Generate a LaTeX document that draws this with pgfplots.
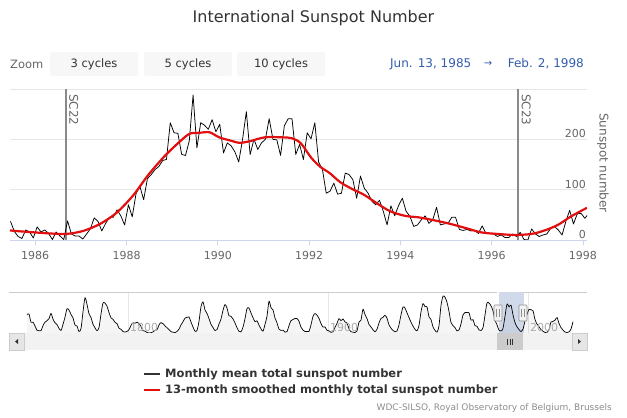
\documentclass[border=0pt]{standalone}
\usepackage{pgfplots}
\usepackage{pgfplotstable}
\pgfplotsset{compat=1.18}
\usepackage{fontspec}
\setmainfont{DejaVu Sans}
\definecolor{txt}{HTML}{333333}
\definecolor{lab}{HTML}{666666}
\definecolor{gridc}{HTML}{E6E6E6}
\definecolor{axl}{HTML}{CCD6EB}
\definecolor{srred}{RGB}{225,15,15}
\definecolor{datec}{HTML}{335CAD}
\definecolor{btn}{HTML}{F7F7F7}
\definecolor{plotline}{HTML}{8A8A8A}
\definecolor{maskc}{RGB}{209,218,235}
\definecolor{navlab}{HTML}{AAAAAA}
\definecolor{outl}{HTML}{CCCCCC}
\definecolor{track}{HTML}{F2F2F2}
\definecolor{sbbtn}{HTML}{E6E6E6}

% monthly mean total sunspot number
\pgfplotstableread{
t v
1985.458 37
1985.542 17
1985.625 7
1985.708 3
1985.792 20
1985.875 16
1985.958 4
1986.042 26
1986.125 16
1986.208 20
1986.292 13
1986.375 1
1986.458 16
1986.542 8
1986.625 1
1986.708 38
1986.792 12
1986.875 8
1986.958 8
1987.042 2
1987.125 12
1987.208 22
1987.292 44
1987.375 37
1987.458 18
1987.542 33
1987.625 45
1987.708 45
1987.792 60
1987.875 48
1987.958 30
1988.042 70
1988.125 46
1988.208 92
1988.292 107
1988.375 80
1988.458 122
1988.542 130
1988.625 140
1988.708 146
1988.792 158
1988.875 160
1988.958 233
1989.042 213
1989.125 212
1989.208 170
1989.292 168
1989.375 197
1989.458 288
1989.542 183
1989.625 233
1989.708 228
1989.792 220
1989.875 239
1989.958 215
1990.042 230
1990.125 173
1990.208 193
1990.292 187
1990.375 175
1990.458 155
1990.542 200
1990.625 255
1990.708 170
1990.792 200
1990.875 180
1990.958 193
1991.042 200
1991.125 241
1991.208 200
1991.292 199
1991.375 168
1991.458 227
1991.542 241
1991.625 241
1991.708 170
1991.792 190
1991.875 160
1991.958 213
1992.042 201
1992.125 233
1992.208 155
1992.292 140
1992.375 93
1992.458 97
1992.542 113
1992.625 91
1992.708 93
1992.792 133
1992.875 130
1992.958 120
1993.042 83
1993.125 127
1993.208 103
1993.292 93
1993.375 77
1993.458 70
1993.542 79
1993.625 57
1993.708 30
1993.792 68
1993.875 48
1993.958 68
1994.042 83
1994.125 57
1994.208 47
1994.292 27
1994.375 30
1994.458 40
1994.542 48
1994.625 33
1994.708 40
1994.792 65
1994.875 30
1994.958 32
1995.042 33
1995.125 45
1995.208 45
1995.292 21
1995.375 19
1995.458 21
1995.542 18
1995.625 19
1995.708 13
1995.792 28
1995.875 13
1995.958 13
1996.042 12
1996.125 7
1996.208 10
1996.292 5
1996.375 5
1996.458 12
1996.542 7
1996.625 15
1996.708 1
1996.792 0
1996.875 22
1996.958 12
1997.042 7
1997.125 10
1997.208 12
1997.292 23
1997.375 27
1997.458 20
1997.542 10
1997.625 37
1997.708 59
1997.792 32
1997.875 52
1997.958 53
1998.042 43
1998.125 53
}\monthly

% 13-month smoothed monthly total sunspot number
\pgfplotstableread{
t v
1985.447 19
1985.70 17
1986.00 15
1986.33 13
1986.68 12
1987.05 18
1987.42 32
1987.78 54
1988.14 88
1988.44 125
1988.65 148
1988.87 170
1989.16 195
1989.38 211
1989.60 213
1989.82 214
1990.03 204
1990.30 197
1990.47 193
1990.69 196
1991.03 204
1991.41 204
1991.63 202
1991.82 192
1992.05 163
1992.25 145
1992.45 133
1992.68 115
1992.95 101
1993.20 90
1993.50 72
1993.78 57
1994.10 48
1994.40 45
1994.69 40
1995.05 33
1995.42 24
1995.78 15
1996.14 12
1996.50 10
1996.87 12
1997.16 19
1997.45 30
1997.74 47
1998.088 64
}\smoothed

% navigator: yearly values 1749-2022
\pgfplotstableread{
t v
1749.5 134.0
1750.5 139.0
1751.5 79.5
1752.5 79.7
1753.5 51.2
1754.5 20.3
1755.5 16.0
1756.5 17.0
1757.5 54.0
1758.5 79.3
1759.5 90.0
1760.5 104.8
1761.5 143.2
1762.5 102.0
1763.5 75.2
1764.5 60.7
1765.5 34.8
1766.5 19.0
1767.5 63.0
1768.5 116.3
1769.5 176.8
1770.5 168.0
1771.5 136.0
1772.5 110.8
1773.5 58.0
1774.5 51.0
1775.5 11.7
1776.5 33.0
1777.5 154.2
1778.5 257.3
1779.5 209.8
1780.5 141.3
1781.5 113.5
1782.5 64.2
1783.5 38.0
1784.5 17.0
1785.5 40.2
1786.5 138.2
1787.5 220.0
1788.5 218.2
1789.5 196.8
1790.5 149.8
1791.5 111.0
1792.5 100.0
1793.5 78.2
1794.5 68.3
1795.5 35.5
1796.5 26.7
1797.5 10.7
1798.5 6.8
1799.5 11.3
1800.5 24.2
1801.5 56.7
1802.5 75.0
1803.5 71.8
1804.5 79.2
1805.5 70.3
1806.5 46.8
1807.5 16.8
1808.5 13.5
1809.5 4.2
1810.5 0.0
1811.5 2.3
1812.5 8.3
1813.5 20.3
1814.5 23.2
1815.5 59.0
1816.5 76.3
1817.5 68.3
1818.5 52.9
1819.5 38.5
1820.5 24.2
1821.5 9.2
1822.5 6.3
1823.5 2.2
1824.5 11.4
1825.5 28.2
1826.5 59.9
1827.5 83.0
1828.5 108.5
1829.5 115.2
1830.5 117.4
1831.5 80.8
1832.5 44.3
1833.5 13.4
1834.5 19.5
1835.5 85.8
1836.5 192.7
1837.5 227.3
1838.5 168.7
1839.5 143.0
1840.5 105.5
1841.5 63.3
1842.5 40.3
1843.5 18.1
1844.5 25.1
1845.5 65.8
1846.5 102.7
1847.5 166.3
1848.5 208.3
1849.5 182.5
1850.5 126.3
1851.5 122.0
1852.5 102.7
1853.5 74.1
1854.5 39.0
1855.5 12.7
1856.5 8.2
1857.5 43.4
1858.5 104.4
1859.5 178.3
1860.5 182.2
1861.5 146.6
1862.5 112.1
1863.5 83.5
1864.5 89.2
1865.5 57.8
1866.5 30.7
1867.5 13.9
1868.5 62.8
1869.5 123.6
1870.5 232.0
1871.5 185.3
1872.5 169.2
1873.5 110.1
1874.5 74.5
1875.5 28.3
1876.5 18.9
1877.5 20.7
1878.5 5.7
1879.5 10.0
1880.5 53.7
1881.5 90.5
1882.5 99.0
1883.5 106.1
1884.5 105.8
1885.5 86.3
1886.5 42.4
1887.5 21.8
1888.5 11.2
1889.5 10.4
1890.5 11.8
1891.5 59.5
1892.5 121.7
1893.5 142.0
1894.5 130.0
1895.5 106.6
1896.5 69.4
1897.5 43.8
1898.5 44.4
1899.5 20.2
1900.5 15.7
1901.5 4.6
1902.5 8.5
1903.5 40.8
1904.5 70.1
1905.5 105.5
1906.5 90.1
1907.5 102.8
1908.5 80.9
1909.5 73.2
1910.5 30.9
1911.5 9.5
1912.5 6.0
1913.5 2.4
1914.5 16.1
1915.5 79.0
1916.5 95.0
1917.5 173.6
1918.5 134.6
1919.5 105.7
1920.5 62.7
1921.5 43.5
1922.5 23.7
1923.5 9.7
1924.5 27.9
1925.5 74.0
1926.5 106.5
1927.5 114.7
1928.5 129.7
1929.5 108.2
1930.5 59.4
1931.5 35.1
1932.5 18.6
1933.5 9.2
1934.5 14.6
1935.5 60.2
1936.5 132.8
1937.5 190.6
1938.5 182.6
1939.5 148.0
1940.5 113.0
1941.5 79.2
1942.5 50.8
1943.5 27.1
1944.5 16.1
1945.5 55.3
1946.5 154.3
1947.5 214.7
1948.5 193.0
1949.5 190.7
1950.5 118.9
1951.5 98.3
1952.5 45.0
1953.5 20.1
1954.5 6.6
1955.5 54.2
1956.5 200.7
1957.5 269.3
1958.5 261.7
1959.5 225.1
1960.5 159.0
1961.5 76.4
1962.5 53.4
1963.5 39.9
1964.5 15.0
1965.5 22.0
1966.5 66.8
1967.5 132.9
1968.5 150.2
1969.5 149.4
1970.5 148.0
1971.5 94.4
1972.5 97.6
1973.5 54.1
1974.5 49.2
1975.5 22.5
1976.5 18.4
1977.5 39.3
1978.5 131.0
1979.5 220.1
1980.5 218.9
1981.5 198.9
1982.5 162.4
1983.5 91.0
1984.5 60.5
1985.5 20.6
1986.5 14.8
1987.5 33.9
1988.5 123.0
1989.5 211.1
1990.5 191.8
1991.5 203.3
1992.5 133.0
1993.5 76.1
1994.5 44.9
1995.5 25.1
1996.5 11.6
1997.5 28.9
1998.5 88.3
1999.5 136.3
2000.5 173.9
2001.5 170.4
2002.5 163.6
2003.5 99.3
2004.5 65.3
2005.5 45.8
2006.5 24.7
2007.5 12.6
2008.5 4.2
2009.5 4.8
2010.5 24.9
2011.5 80.8
2012.5 84.5
2013.5 94.0
2014.5 113.3
2015.5 69.8
2016.5 39.8
2017.5 21.7
2018.5 7.0
2019.5 3.6
2020.5 8.8
2021.5 29.6
2022.5 83.2
}\navdata

\begin{document}
\begin{tikzpicture}
\useasboundingbox (0pt,0pt) rectangle (627pt,-418pt);

% title
\node[inner sep=0, font=\fontsize{16}{18}\selectfont, text=txt] at (313.5pt,-18pt) {International Sunspot Number};

% zoom row
\node[anchor=west, inner sep=0, font=\fontsize{11.5}{13}\selectfont, text=lab] at (10pt,-64pt) {Zoom};
\fill[btn, rounded corners=2pt] (50pt,-52pt) rectangle (138pt,-76pt);
\fill[btn, rounded corners=2pt] (144pt,-52pt) rectangle (232pt,-76pt);
\fill[btn, rounded corners=2pt] (237pt,-52pt) rectangle (325pt,-76pt);
\node[inner sep=0, font=\fontsize{11.5}{13}\selectfont, text=txt] at (94pt,-64pt) {3 cycles};
\node[inner sep=0, font=\fontsize{11.5}{13}\selectfont, text=txt] at (188pt,-64pt) {5 cycles};
\node[inner sep=0, font=\fontsize{11.5}{13}\selectfont, text=txt] at (281pt,-64pt) {10 cycles};
\node[anchor=west, inner sep=0, font=\fontsize{12}{14}\selectfont, text=datec] at (390pt,-64pt) {Jun. 13, 1985};
\node[inner sep=0, font=\fontsize{10}{12}\selectfont, text=datec] at (488pt,-64pt) {→};
\node[anchor=east, inner sep=0, font=\fontsize{12}{14}\selectfont, text=datec] at (584pt,-64pt) {Feb. 2, 1998};

% main chart
\begin{axis}[
  at={(10pt,-240pt)}, anchor=south west,
  scale only axis, width=577pt, height=151pt,
  xmin=1985.447, xmax=1998.088, ymin=0, ymax=300,
  axis line style={draw=none},
  xtick={1986,1988,...,1998},
  xtick pos=left, xtick align=outside,
  major tick length=5pt,
  x tick style={color=axl, line width=0.8pt},
  ytick={100,200,300}, yticklabels={}, y tick style={draw=none},
  ymajorgrids, grid style={color=gridc, line width=0.8pt},
  xticklabel style={font=\fontsize{11}{13}\selectfont, text=lab, yshift=-3pt},
  /pgf/number format/1000 sep={},
  /pgf/number format/assume math mode=true,
]
\draw[plotline, line width=2pt] (axis cs:1986.67,0) -- (axis cs:1986.67,300);
\draw[plotline, line width=2pt] (axis cs:1996.57,0) -- (axis cs:1996.57,300);
\addplot[black, line width=0.75pt, line join=round, mark=none] table[x=t, y=v] {\monthly};
\addplot[srred, line width=2.2pt, smooth, mark=none] table[x=t, y=v] {\smoothed};
\end{axis}

% x axis baseline
\draw[axl, line width=0.8pt] (10pt,-240pt) -- (587pt,-240pt);

% plot line labels
\node[anchor=south west, inner sep=0, font=\fontsize{12}{14}\selectfont, text=lab, rotate=-90] at (69pt,-94pt) {SC22};
\node[anchor=south west, inner sep=0, font=\fontsize{12}{14}\selectfont, text=lab, rotate=-90] at (521.5pt,-94pt) {SC23};

% y tick labels (inside, right)
\node[anchor=south east, inner sep=0, font=\fontsize{11}{13}\selectfont, text=lab] at (586pt,-138pt) {200};
\node[anchor=south east, inner sep=0, font=\fontsize{11}{13}\selectfont, text=lab] at (586pt,-188.5pt) {100};
\node[anchor=south east, inner sep=0, font=\fontsize{11}{13}\selectfont, text=lab] at (586pt,-239pt) {0};
% y axis title
\node[inner sep=0, font=\fontsize{12}{14}\selectfont, text=lab, rotate=-90] at (603pt,-163pt) {Sunspot number};

% navigator
\begin{axis}[
  at={(9pt,-333pt)}, anchor=south west,
  scale only axis, width=578pt, height=41pt,
  xmin=1740.5, xmax=2029.5, ymin=0, ymax=300,
  axis line style={draw=none},
  xtick={1800,1900,2000}, xticklabels={}, major tick length=0pt,
  xmajorgrids, grid style={color=gridc, line width=0.8pt},
  ytick=\empty,
]
\fill[maskc] (axis cs:1985.447,0) rectangle (axis cs:1998.088,300);
\addplot[draw=none, fill=black, fill opacity=0.04] table[x=t, y=v] {\navdata} \closedcycle;
\addplot[black, line width=0.7pt, smooth, mark=none] table[x=t, y=v] {\navdata};
\end{axis}
\node[anchor=south west, inner sep=0, font=\fontsize{11}{13}\selectfont, text=navlab] at (130pt,-332pt) {1800};
\node[anchor=south west, inner sep=0, font=\fontsize{11}{13}\selectfont, text=navlab] at (330pt,-332pt) {1900};
\node[anchor=south west, inner sep=0, font=\fontsize{11}{13}\selectfont, text=navlab] at (530pt,-332pt) {2000};
\draw[outl, line width=0.8pt] (9pt,-292pt) -- (497pt,-292pt);
\draw[outl, line width=0.8pt] (523pt,-292pt) -- (587pt,-292pt);
% handles
\foreach \hx in {498,523}{
  \filldraw[fill=track, draw=black!45, line width=0.6pt, rounded corners=0.8pt] (\hx pt-4pt,-305pt) rectangle (\hx pt+4pt,-321pt);
  \draw[black!45, line width=0.6pt] (\hx pt-1.3pt,-309pt) -- (\hx pt-1.3pt,-317pt);
  \draw[black!45, line width=0.6pt] (\hx pt+1.3pt,-309pt) -- (\hx pt+1.3pt,-317pt);
}

% scrollbar
\fill[track] (9pt,-333pt) rectangle (587pt,-350pt);
\filldraw[fill=sbbtn, draw=outl, line width=0.5pt] (9pt,-333pt) rectangle (24pt,-350pt);
\filldraw[fill=sbbtn, draw=outl, line width=0.5pt] (572pt,-333pt) rectangle (587pt,-350pt);
\fill[txt] (15pt,-341.5pt) -- (18pt,-339pt) -- (18pt,-344pt) -- cycle;
\fill[txt] (581pt,-341.5pt) -- (578pt,-339pt) -- (578pt,-344pt) -- cycle;
\fill[outl] (497pt,-333pt) rectangle (523pt,-350pt);
\foreach \sx in {-2.5,0,2.5}{
  \draw[txt, line width=0.6pt] (510pt+\sx pt,-338.5pt) -- (510pt+\sx pt,-344.5pt);
}

% legend
\draw[black!80, line width=1.5pt] (144pt,-374pt) -- (160pt,-374pt);
\node[anchor=west, inner sep=0, font=\bfseries\fontsize{11.5}{13}\selectfont, text=txt] at (165pt,-374pt) {Monthly mean total sunspot number};
\draw[srred, line width=2.5pt] (144pt,-390pt) -- (160pt,-390pt);
\node[anchor=west, inner sep=0, font=\bfseries\fontsize{11.5}{13}\selectfont, text=txt] at (165pt,-390pt) {13-month smoothed monthly total sunspot number};

% credits
\node[anchor=east, inner sep=0, font=\fontsize{9}{11}\selectfont, text=black!45] at (612pt,-408pt) {WDC-SILSO, Royal Observatory of Belgium, Brussels};
\end{tikzpicture}
\end{document}
